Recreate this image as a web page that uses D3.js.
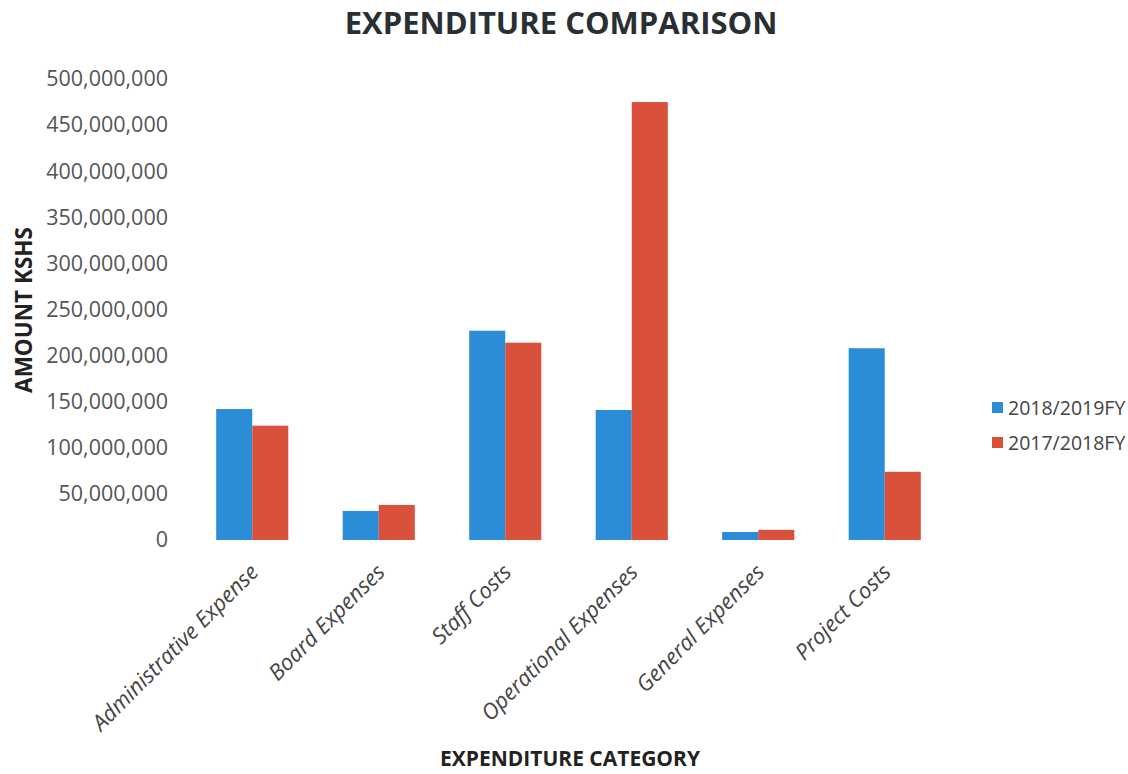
<!DOCTYPE html>
<html>
<head>
<meta charset="utf-8">
<script src="https://cdn.jsdelivr.net/npm/d3@7.9.0/dist/d3.min.js"></script>
<style>
  body { margin: 0; background: #fff; }
  svg { display: block; font-family: "Open Sans", sans-serif; }
</style>
</head>
<body>
<svg width="1128" height="774"></svg>
<script>
// chart data
const categories = ["Administrative Expense", "Board Expenses", "Staff Costs", "Operational Expenses", "General Expenses", "Project Costs"];
const seriesNames = ["2018/2019FY", "2017/2018FY"];
const fy2018_2019 = [142000000, 31500000, 227000000, 141000000, 8700000, 208000000];
const fy2017_2018 = [124000000, 38000000, 214000000, 475000000, 11000000, 74000000];
const yTicks = [0, 50000000, 100000000, 150000000, 200000000, 250000000, 300000000, 350000000, 400000000, 450000000, 500000000];

const colors = ["#2b8cd8", "#d9503b"];

let svg = d3.select("svg");

let x = d3.scaleBand().domain(categories).range([189, 948]).paddingInner(0.43).paddingOuter(0.215);
let sub = d3.scaleBand().domain(seriesNames).range([0, x.bandwidth()]);
let y = d3.scaleLinear().domain([0, 500000000]).range([540, 79]);

// title
svg.append("text")
    .attr("x", 561).attr("y", 34)
    .attr("text-anchor", "middle")
    .attr("font-size", 31).attr("font-weight", "bold")
    .attr("fill", "#2a2f33")
    .text("EXPENDITURE COMPARISON");

// y axis (labels only)
let yAxis = svg.append("g")
    .attr("transform", "translate(168,0)")
    .call(d3.axisLeft(y).tickValues(yTicks).tickFormat(d3.format(",")).tickSize(0).tickPadding(0));
yAxis.select(".domain").remove();
yAxis.selectAll("text")
    .attr("font-family", "Open Sans").attr("font-size", 21.5)
    .attr("fill", "#555");

svg.append("text")
    .attr("transform", "translate(32,310) rotate(-90)")
    .attr("text-anchor", "middle")
    .attr("font-size", 22.5).attr("font-weight", "bold")
    .attr("fill", "#222")
    .text("AMOUNT KSHS");

// bars
let data = categories.map((c, i) => ({ cat: c, vals: [fy2018_2019[i], fy2017_2018[i]] }));
let groups = svg.append("g").selectAll("g")
    .data(data)
    .enter()
    .append("g")
    .attr("transform", (d) => `translate(${x(d.cat)},0)`);

groups.selectAll("rect")
    .data((d) => d.vals.map((v, k) => ({ key: seriesNames[k], value: v, k: k })))
    .enter()
    .append("rect")
    .attr("x", (d) => sub(d.key))
    .attr("width", sub.bandwidth())
    .attr("y", (d) => y(d.value))
    .attr("height", (d) => y(0) - y(d.value))
    .attr("fill", (d) => colors[d.k]);

// x axis (rotated labels)
let xAxis = svg.append("g")
    .attr("transform", "translate(0,548)")
    .call(d3.axisBottom(x).tickSize(0).tickPadding(0));
xAxis.select(".domain").remove();
xAxis.selectAll("text")
    .attr("font-family", "Open Sans").attr("font-size", 22)
    .attr("font-style", "italic")
    .attr("fill", "#444")
    .attr("text-anchor", "end")
    .attr("dy", "0.35em")
    .attr("transform", "translate(2,20) rotate(-45)");

svg.append("text")
    .attr("x", 570).attr("y", 766)
    .attr("text-anchor", "middle")
    .attr("font-size", 21).attr("font-weight", "bold")
    .attr("fill", "#222")
    .text("EXPENDITURE CATEGORY");

// legend
let legend = svg.append("g");
seriesNames.forEach((name, i) => {
    let ly = 408 + i * 35;
    legend.append("rect")
        .attr("x", 992).attr("y", ly - 6)
        .attr("width", 11).attr("height", 11)
        .attr("fill", colors[i]);
    legend.append("text")
        .attr("x", 1008).attr("y", ly)
        .attr("dy", "0.35em")
        .attr("font-size", 19.5)
        .attr("fill", "#444")
        .text(name);
});
</script>
</body>
</html>
